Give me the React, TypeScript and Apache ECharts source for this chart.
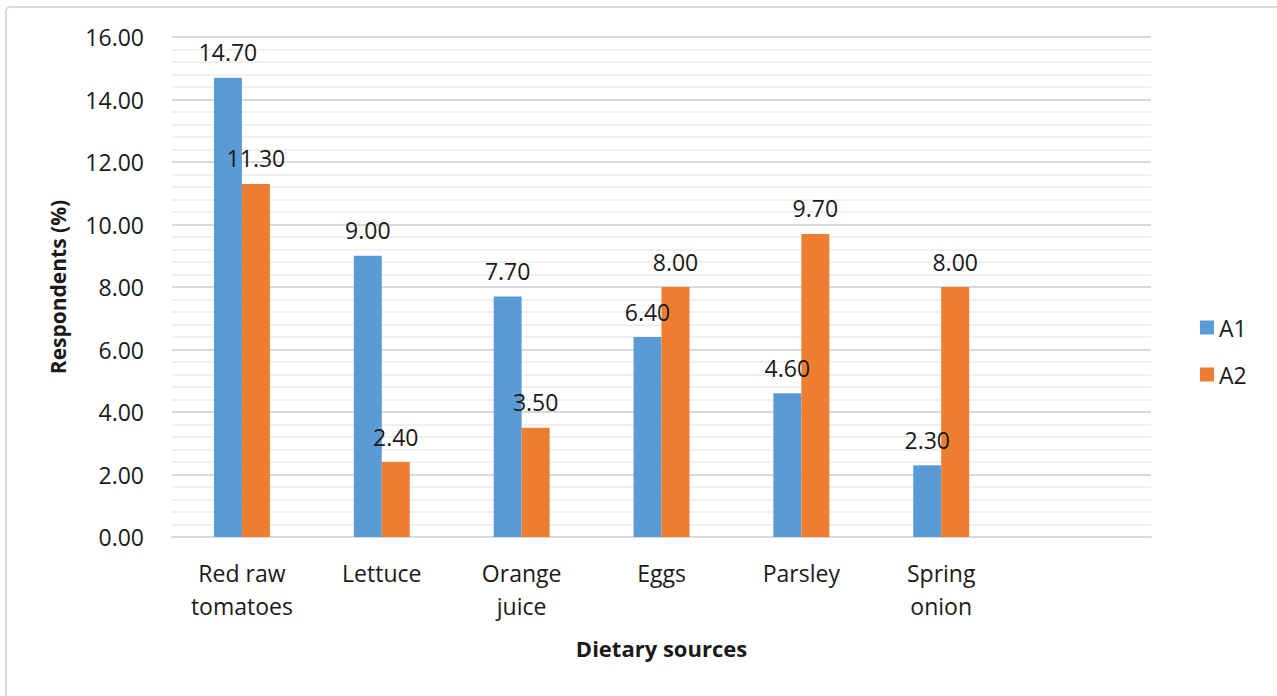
import React, { useEffect, useRef } from "react";
import * as echarts from "echarts";

const categories = ["Red raw\ntomatoes", "Lettuce", "Orange\njuice", "Eggs", "Parsley", "Spring\nonion", ""];
const seriesA1 = [14.7, 9.0, 7.7, 6.4, 4.6, 2.3, null];
const seriesA2 = [11.3, 2.4, 3.5, 8.0, 9.7, 8.0, null];
const seriesNames = ["A1", "A2"];
const yMin = 0;
const yMax = 16;
const yInterval = 2;

const FONT = "Open Sans";

export default function App() {
  const ref = useRef<HTMLDivElement>(null);
  useEffect(() => {
    if (!ref.current) return;
    const chart = echarts.init(ref.current, undefined, { renderer: "svg" });
    const label = {
      show: true,
      position: "top",
      distance: 14,
      fontFamily: FONT,
      fontSize: 23,
      color: "#1a1a1a",
      formatter: (p: any) => (p.value == null ? "" : Number(p.value).toFixed(2)),
    };
    chart.setOption({
      animation: false,
      backgroundColor: "#ffffff",
      textStyle: { fontFamily: FONT },
      graphic: [
        {
          type: "rect",
          shape: { x: 6, y: 7, width: 1300, height: 720, r: 4 },
          style: { fill: "none", stroke: "#d9d9d9", lineWidth: 2 },
          silent: true,
        },
      ],
      legend: {
        orient: "vertical",
        left: 1195,
        top: 311,
        itemWidth: 14,
        itemHeight: 14,
        itemGap: 24,
        icon: "rect",
        textStyle: { fontFamily: FONT, fontSize: 23, color: "#1a1a1a", padding: [0, 0, 0, 0] },
        data: seriesNames,
      },
      grid: { left: 172, right: 126, top: 37, bottom: 159, containLabel: false },
      xAxis: {
        type: "category",
        data: categories,
        name: "Dietary sources",
        nameLocation: "middle",
        nameGap: 100,
        nameTextStyle: { fontFamily: FONT, fontSize: 22, fontWeight: "bold", color: "#1a1a1a" },
        axisLine: { show: true, lineStyle: { color: "#d9d9d9", width: 2 } },
        axisTick: { show: false },
        axisLabel: {
          fontFamily: FONT,
          fontSize: 23,
          color: "#1a1a1a",
          lineHeight: 33,
          margin: 19,
          interval: 0,
        },
      },
      yAxis: {
        type: "value",
        min: yMin,
        max: yMax,
        interval: yInterval,
        name: "Respondents (%)",
        nameLocation: "middle",
        nameGap: 104,
        nameRotate: 90,
        nameTextStyle: { fontFamily: FONT, fontSize: 21, fontWeight: "bold", color: "#1a1a1a" },
        axisLine: { show: false },
        axisTick: { show: false },
        axisLabel: {
          fontFamily: FONT,
          fontSize: 23,
          color: "#1a1a1a",
          margin: 28,
          formatter: (v: number) => v.toFixed(2),
        },
        splitLine: { show: true, lineStyle: { color: "#d9d9d9", width: 2 } },
        minorTick: { show: false, splitNumber: 5 },
        minorSplitLine: { show: true, lineStyle: { color: "#f0f0f0", width: 2 } },
      },
      series: [
        {
          name: seriesNames[0],
          type: "bar",
          data: seriesA1,
          barWidth: "20%",
          barGap: "0%",
          itemStyle: { color: "#5b9bd5" },
          label,
        },
        {
          name: seriesNames[1],
          type: "bar",
          data: seriesA2,
          barWidth: "20%",
          barGap: "0%",
          itemStyle: { color: "#ed7d31" },
          label,
        },
      ],
    });
    return () => chart.dispose();
  }, []);
  return (
    <div
      ref={ref}
      style={{ position: "fixed", left: 0, top: 0, width: 1277, height: 696 }}
    />
  );
}
